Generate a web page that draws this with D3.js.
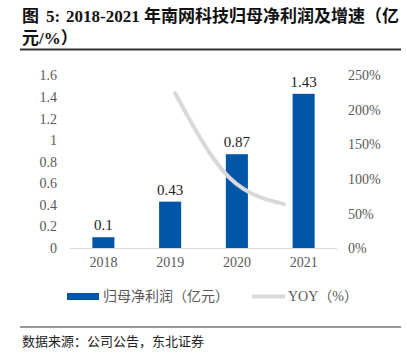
<!DOCTYPE html>
<html><head><meta charset="utf-8">
<script src="https://cdn.jsdelivr.net/npm/d3@7"></script>
<style>body{margin:0;background:#fff}svg{display:block}</style>
</head><body>
<svg id="c" width="407" height="357"></svg>
<script>
const categories = ["2018", "2019", "2020", "2021"];
const profit = [0.1, 0.43, 0.87, 1.43];
const yoyCategories = ["2019", "2020", "2021"];
const yoy = [224, 102, 64];
const leftTicks = [0, 0.2, 0.4, 0.6, 0.8, 1, 1.2, 1.4, 1.6];
const rightTicks = [0, 50, 100, 150, 200, 250];

const svg = d3.select("#c");
const serif = "'Liberation Serif','Times New Roman',serif";
const cjk = "'Liberation Serif','Noto Sans CJK SC',serif";
const grey = "#595959";

// title
const t = svg.append("text").attr("y", 22).attr("font-family", cjk)
  .attr("font-weight", "bold").attr("font-size", 17).attr("fill", "#111");
t.append("tspan").attr("x", 22).text("图");
t.append("tspan").attr("x", 46).text("5:");
t.append("tspan").attr("x", 66).text("2018-2021 年南网科技归母净利润及增速（亿");
svg.append("text").attr("x", 22).attr("y", 44).attr("font-family", cjk)
  .attr("font-weight", "bold").attr("font-size", 17).attr("fill", "#111").text("元/%）");
svg.append("line").attr("x1", 20).attr("x2", 401).attr("y1", 49.5).attr("y2", 49.5)
  .attr("stroke", "#333").attr("stroke-width", 2);

const x = d3.scaleBand().domain(categories).range([70, 337]).paddingInner(0.67).paddingOuter(0.335);
const y = d3.scaleLinear().domain([0, 1.6]).range([248, 75.5]);
const y2 = d3.scaleLinear().domain([0, 250]).range([248.5, 75]);
const xLine = d3.scalePoint().domain(yoyCategories).range([175, 284]);

// baseline
svg.append("line").attr("x1", 70).attr("x2", 337).attr("y1", 248.5).attr("y2", 248.5)
  .attr("stroke", "#d9d9d9").attr("stroke-width", 1);

// left axis
const la = svg.append("g").attr("transform", "translate(57,0)")
  .call(d3.axisLeft(y).tickValues(leftTicks).tickSize(0).tickPadding(0).tickFormat(d => d3.format("")(d)));
la.select(".domain").remove();
la.selectAll("text").attr("font-family", serif).attr("font-size", 14).attr("fill", grey);

// right axis
const ra = svg.append("g").attr("transform", "translate(348,0)")
  .call(d3.axisRight(y2).tickValues(rightTicks).tickSize(0).tickPadding(0).tickFormat(d => d + "%"));
ra.select(".domain").remove();
ra.selectAll("text").attr("font-family", serif).attr("font-size", 14).attr("fill", grey);

// x axis
const xa = svg.append("g").attr("transform", "translate(0,257)")
  .call(d3.axisBottom(x).tickSize(0).tickPadding(0));
xa.select(".domain").remove();
xa.selectAll("text").attr("font-family", serif).attr("font-size", 14).attr("fill", grey).attr("dy", "0.71em");

// bars
svg.append("g").selectAll("rect").data(profit).join("rect")
  .attr("x", (d, i) => x(categories[i])).attr("width", x.bandwidth())
  .attr("y", d => y(d)).attr("height", d => y(0) - y(d)).attr("fill", "#0256a8");
svg.append("g").selectAll("text").data(profit).join("text")
  .attr("x", (d, i) => x(categories[i]) + x.bandwidth() / 2).attr("y", d => y(d) - 7)
  .attr("text-anchor", "middle").attr("font-family", serif).attr("font-size", 15).attr("fill", "#222")
  .text(d => d);

// line
const line = d3.line().x((d, i) => xLine(yoyCategories[i])).y(d => y2(d)).curve(d3.curveMonotoneX);
svg.append("path").datum(yoy).attr("d", line).attr("fill", "none")
  .attr("stroke", "#d9d9d9").attr("stroke-width", 4).attr("stroke-linecap", "round");

// legend
svg.append("rect").attr("x", 67).attr("y", 293).attr("width", 32).attr("height", 7).attr("fill", "#0256a8");
svg.append("text").attr("x", 103).attr("y", 301).attr("font-family", cjk).attr("font-size", 14)
  .attr("fill", grey).text("归母净利润（亿元）");
svg.append("line").attr("x1", 252).attr("x2", 285).attr("y1", 296.5).attr("y2", 296.5)
  .attr("stroke", "#d9d9d9").attr("stroke-width", 4);
svg.append("text").attr("x", 288).attr("y", 301).attr("font-family", cjk).attr("font-size", 14)
  .attr("fill", grey).text("YOY（%）");

// source
svg.append("line").attr("x1", 20).attr("x2", 401).attr("y1", 327).attr("y2", 327)
  .attr("stroke", "#999").attr("stroke-width", 2);
svg.append("text").attr("x", 22).attr("y", 346).attr("font-family", cjk).attr("font-size", 13)
  .attr("fill", "#222").text("数据来源：公司公告，东北证券");
</script>
</body></html>
